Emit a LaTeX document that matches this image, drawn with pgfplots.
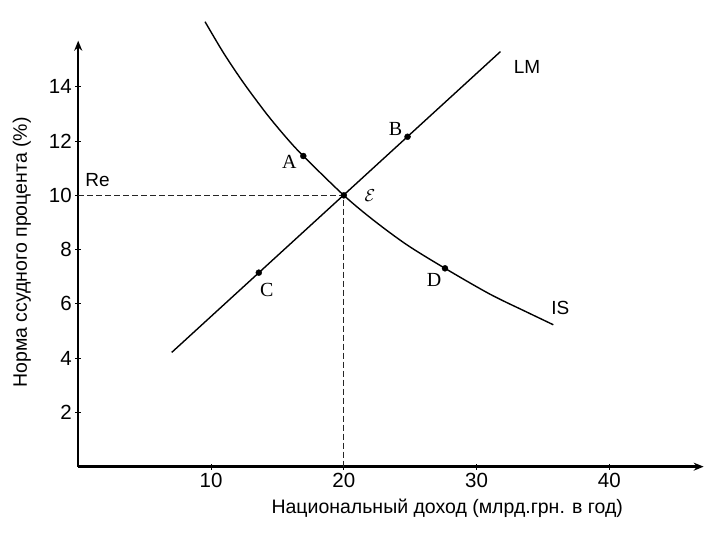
\documentclass[border=0pt]{standalone}
\usepackage{fontspec}
\setmainfont{Liberation Sans}
\newfontfamily\seriffont{Liberation Serif}
\usepackage{pgfplots}
\pgfplotsset{compat=1.18}
\usetikzlibrary{arrows.meta}
\begin{document}
\begin{tikzpicture}
\begin{axis}[
  scale only axis, width=625.5pt, height=426pt,
  xmin=0, xmax=47.1, ymin=0, ymax=15.7,
  axis lines=left,
  axis line style={line width=2.5pt},
  every outer x axis line/.append style={-{Stealth[length=10pt,width=8pt]}},
  every outer y axis line/.append style={-{Stealth[length=10pt,width=8pt]}},
  xtick={10,20,30,40}, ytick={2,4,6,8,10,12,14},
  tick align=center, major tick length=6pt,
  tick style={black, line width=1pt},
  tick label style={font=\fontsize{20.5}{22}\selectfont},
  /pgf/number format/assume math mode=true,
  xlabel={Национальный доход (млрд.грн. в год)},
  ylabel={Норма ссудного процента (\%)},
  label style={font=\fontsize{19.5}{22}\selectfont},
  xlabel style={at={(rel axis cs:0.59,-0.0987)}, anchor=center},
  ylabel style={at={(rel axis cs:-0.0902,0.503)}, anchor=center, rotate=0},
  clip=false,
]
\path (axis cs:-5.89,-2.69) rectangle (axis cs:48.33,17.2);
\addplot[black!85, line width=0.8pt, dash pattern=on 6pt off 3pt] coordinates {(0,10) (20,10) (20,0)};
\addplot[black, line width=1.4pt] coordinates {(7.04,4.21) (31.8,15.30)};
\addplot[black, line width=1.4pt, smooth] coordinates {
(9.55,16.40) (10.93,15.26) (12.43,14.16) (14.19,13.00) (15.70,12.11) (16.95,11.45)
(20,10) (22.22,9.09) (24.74,8.18) (27.62,7.31) (31.0,6.36) (33.77,5.70) (35.78,5.23)};
\addplot[only marks, mark=*, mark size=3pt, black] coordinates {
(16.95,11.45) (24.8,12.16) (13.6,7.15) (27.62,7.31) (20,10)};
\node[font=\seriffont\fontsize{20}{22}\selectfont] at (axis cs:15.9,11.23) {A};
\node[font=\seriffont\fontsize{20}{22}\selectfont] at (axis cs:23.9,12.45) {B};
\node[font=\seriffont\fontsize{20}{22}\selectfont] at (axis cs:14.2,6.52) {C};
\node[font=\seriffont\fontsize{20}{22}\selectfont] at (axis cs:26.8,6.89) {D};
\node[font=\fontsize{18}{20}\selectfont] at (axis cs:21.97,10.0) {$\mathcal{E}$};
\node[font=\fontsize{19}{21}\selectfont] at (axis cs:33.8,14.73) {LM};
\node[font=\fontsize{19}{21}\selectfont] at (axis cs:36.3,5.86) {IS};
\node[font=\fontsize{19}{21}\selectfont] at (axis cs:1.45,10.55) {Re};
\end{axis}
\end{tikzpicture}
\end{document}
